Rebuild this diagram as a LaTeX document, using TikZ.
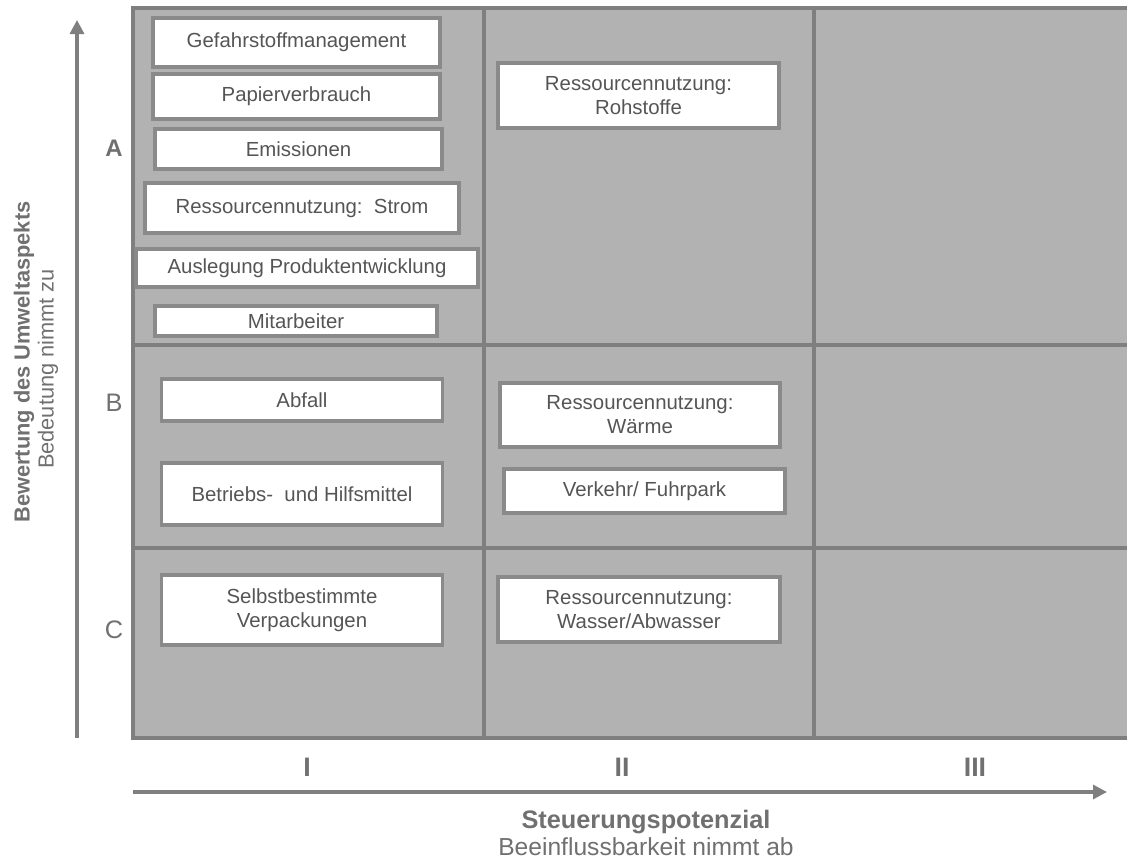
\documentclass[tikz,border=0pt]{standalone}
\usepackage{fontspec}
\setmainfont{Liberation Sans}
\usepackage{tikz}
\usetikzlibrary{arrows.meta}
\usetikzlibrary{positioning}
\definecolor{cellgray}{HTML}{B2B2B2}
\definecolor{linegray}{HTML}{7F7F7F}
\definecolor{boxline}{HTML}{8A8A8A}
\definecolor{txtgray}{HTML}{555555}
\definecolor{axgray}{HTML}{707070}
\tikzset{
    gridline/.style={draw=linegray, line width=2.4pt},
    aspectbox/.style={draw=boxline, fill=white, line width=2.3pt, text=txtgray,
        align=center, inner sep=0pt, font=\fontsize{14.5}{17}\selectfont},
    classlabel/.style={text=axgray, font=\fontsize{18}{21}\selectfont},
    romanlabel/.style={text=axgray, font=\fontsize{19}{22}\selectfont\bfseries},
    axistitle/.style={text=axgray, font=\fontsize{15.5}{18}\selectfont\bfseries},
    axissub/.style={text=axgray, font=\fontsize{15.5}{18}\selectfont},
    axisarrow/.style={draw=linegray, line width=2.3pt,
        -{Triangle[length=0.35cm,width=0.35cm]}},
}

\begin{document}
\begin{tikzpicture}[x=0.025cm, y=-0.025cm]
	\useasboundingbox (0,0) rectangle (1127,861);
	% matrix
	\fill[cellgray] (133,8) rectangle (1127,738);
	\draw[gridline] (1127,8) -- (133,8) -- (133,738) -- (1127,738);
	\draw[gridline] (484,8) -- (484,738);
	\draw[gridline] (814,8) -- (814,738);
	\draw[gridline] (133,345) -- (1127,345);
	\draw[gridline] (133,548) -- (1127,548);
	% column I
	\node[aspectbox, minimum width=7.175cm, minimum height=1.225cm] (gefahr) at (296.5,42.5) {Gefahrstoffmanagement};
	\node[aspectbox, minimum width=7.175cm, minimum height=1.125cm] (papier) at (296.5,96.5) {Papierverbrauch};
	\node[aspectbox, minimum width=7.175cm, minimum height=1.0cm] (emiss) at (298.5,149) {Emissionen};
	\node[aspectbox, minimum width=7.85cm, minimum height=1.25cm] (strom) at (302,208) {Ressourcennutzung:\ \ Strom};
	\node[aspectbox, minimum width=8.55cm, minimum height=0.95cm] (auslegung) at (307,268) {Auslegung Produktentwicklung};
	\node[aspectbox, minimum width=7.05cm, minimum height=0.75cm] (mitarb) at (296,321) {Mitarbeiter};
	\node[aspectbox, minimum width=7.025cm, minimum height=1.05cm] (abfall) at (302,400) {Abfall};
	\node[aspectbox, minimum width=7.025cm, minimum height=1.55cm] (betrieb) at (302,494) {Betriebs-\ \ und Hilfsmittel};
	\node[aspectbox, minimum width=7.025cm, minimum height=1.75cm] (verpack) at (302,610) {Selbstbestimmte\\Verpackungen};
	% column II
	\node[aspectbox, minimum width=7.025cm, minimum height=1.625cm] (rohst) at (638.5,95.5) {Ressourcennutzung:\\Rohstoffe};
	\node[aspectbox, minimum width=7.0cm, minimum height=1.6cm] (waerme) at (640,415) {Ressourcennutzung:\\Wärme};
	\node[aspectbox, minimum width=7.025cm, minimum height=1.1cm] (verkehr) at (644.5,491) {Verkehr/ Fuhrpark};
	\node[aspectbox, minimum width=7.05cm, minimum height=1.625cm] (wasser) at (639,609.5) {Ressourcennutzung:\\Wasser/Abwasser};
	% classes
	\node[classlabel, font=\fontsize{17}{20}\selectfont\bfseries] (klA) at (114,148) {A};
	\node[classlabel] (klB) at (114,403) {B};
	\node[classlabel] (klC) at (114,630) {C};
	\node[romanlabel] (klI) at (307,767) {I};
	\node[romanlabel] (klII) at (622,767) {II};
	\node[romanlabel] (klIII) at (975,767) {III};
	% axes
	\coordinate (yfoot) at (77,738);
	\coordinate (ytip) at (77,20);
	\coordinate (xfoot) at (133,792);
	\coordinate (xtip) at (1107,792);
	\draw[axisarrow] (yfoot) -- (ytip);
	\draw[axisarrow] (xfoot) -- (xtip);
	\node[axistitle, rotate=90] (bewert) at (24,362) {Bewertung des Umweltaspekts};
	\node[axissub, rotate=90] (bedeut) at (48,369) {Bedeutung nimmt zu};
	\node[axistitle, font=\fontsize{18}{21}\selectfont\bfseries] (steuer) at (646,822) {Steuerungspotenzial};
	\node[axissub, font=\fontsize{17.5}{20}\selectfont] (beeinfl) at (646,847) {Beeinflussbarkeit nimmt ab};
\end{tikzpicture}
\end{document}
